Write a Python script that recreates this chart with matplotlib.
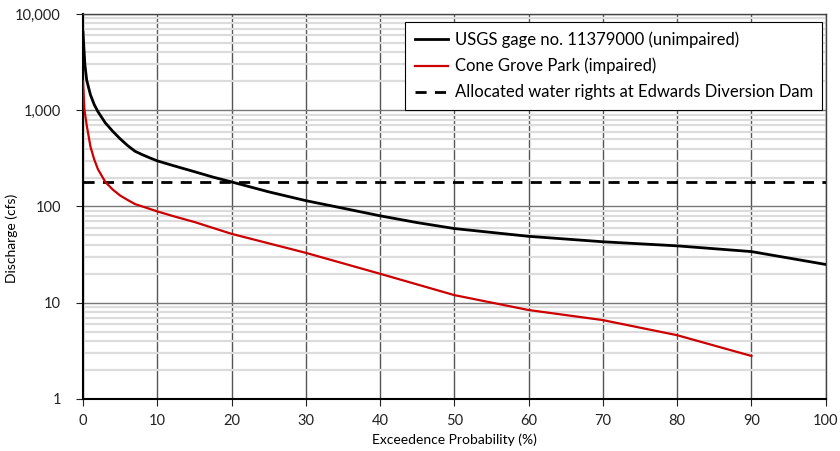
import numpy as np
import matplotlib.pyplot as plt
from matplotlib.ticker import FixedLocator, LogLocator, NullFormatter

# Datos (curvas de duracion de caudales)
prob_usgs = [0, 0.25, 0.5, 1, 1.5, 2, 3, 4, 5, 6, 7, 8, 9, 10, 12, 15, 17.5, 20, 25, 30, 35, 40, 45, 50, 60, 70, 80, 90, 100]
q_usgs = [6500, 3000, 2050, 1450, 1150, 970, 740, 605, 505, 430, 375, 345, 320, 298, 268, 230, 202, 180, 142, 115, 96, 80, 68, 59, 49, 43, 39, 34, 25]

prob_cone = [0, 0.2, 0.5, 1, 1.5, 2, 3, 4, 5, 6, 7, 8, 10, 12, 15, 20, 30, 40, 50, 60, 70, 80, 90]
q_cone = [2000, 1000, 700, 420, 310, 245, 180, 150, 130, 117, 106, 100, 89, 80, 69, 52, 33, 20, 12, 8.4, 6.6, 4.6, 2.8]

water_rights = 178

y_ticks = [1, 10, 100, 1000, 10000]
y_labels = ['1', '10', '100', '1,000', '10,000']
x_ticks = list(range(0, 101, 10))

plt.rcParams['font.family'] = ['Lato', 'DejaVu Sans']

fig = plt.figure(figsize=(8.4, 4.51), dpi=100)
ax = fig.add_axes([0.0988, 0.1153, 0.8842, 0.8537])

ax.plot(prob_usgs, q_usgs, color='black', lw=2, label='USGS gage no. 11379000 (unimpaired)', zorder=4)
ax.plot(prob_cone, q_cone, color='#cc0000', lw=1.6, label='Cone Grove Park (impaired)', zorder=4)
ax.axhline(water_rights, color='black', lw=2, ls=(0, (4, 3)),
           label='Allocated water rights at Edwards Diversion Dam', zorder=3)

ax.set_yscale('log')
ax.set_ylim(1, 10000)
ax.set_xlim(0, 100)
ax.yaxis.set_major_locator(FixedLocator(y_ticks))
ax.set_yticklabels(y_labels)
ax.yaxis.set_minor_locator(LogLocator(base=10, subs=np.arange(2, 10)))
ax.yaxis.set_minor_formatter(NullFormatter())
ax.set_xticks(x_ticks)

# Rejilla
ax.grid(which='major', axis='x', color='#555555', lw=1.0)
ax.grid(which='major', axis='y', color='#777777', lw=1.0)
ax.grid(which='minor', axis='y', color='#dcdcdc', lw=1.6)
ax.set_axisbelow(True)

ax.tick_params(axis='both', which='major', direction='out', length=5, labelsize=10.5, colors='#222222')
ax.tick_params(axis='y', which='major', pad=11)
ax.tick_params(axis='x', which='major', pad=6)
ax.tick_params(axis='y', which='minor', length=0)
for s in ['left', 'bottom']:
    ax.spines[s].set_color('black')
    ax.spines[s].set_linewidth(1.5)
for s in ['top', 'right']:
    ax.spines[s].set_color('#444444')
    ax.spines[s].set_linewidth(1.0)

ax.set_xlabel('Exceedence Probability (%)', fontsize=10, labelpad=4)
ax.set_ylabel('Discharge (cfs)', fontsize=10)
ax.yaxis.set_label_coords(-0.087, 0.418)

leg = ax.legend(loc='upper right', bbox_to_anchor=(0.995, 0.979), fontsize=12, fancybox=False,
                framealpha=1, edgecolor='black', handlelength=2.0, handletextpad=0.4,
                labelspacing=0.6, borderpad=0.55, borderaxespad=0)
leg.get_frame().set_linewidth(0.8)

fig.savefig('out.png', dpi=100)
